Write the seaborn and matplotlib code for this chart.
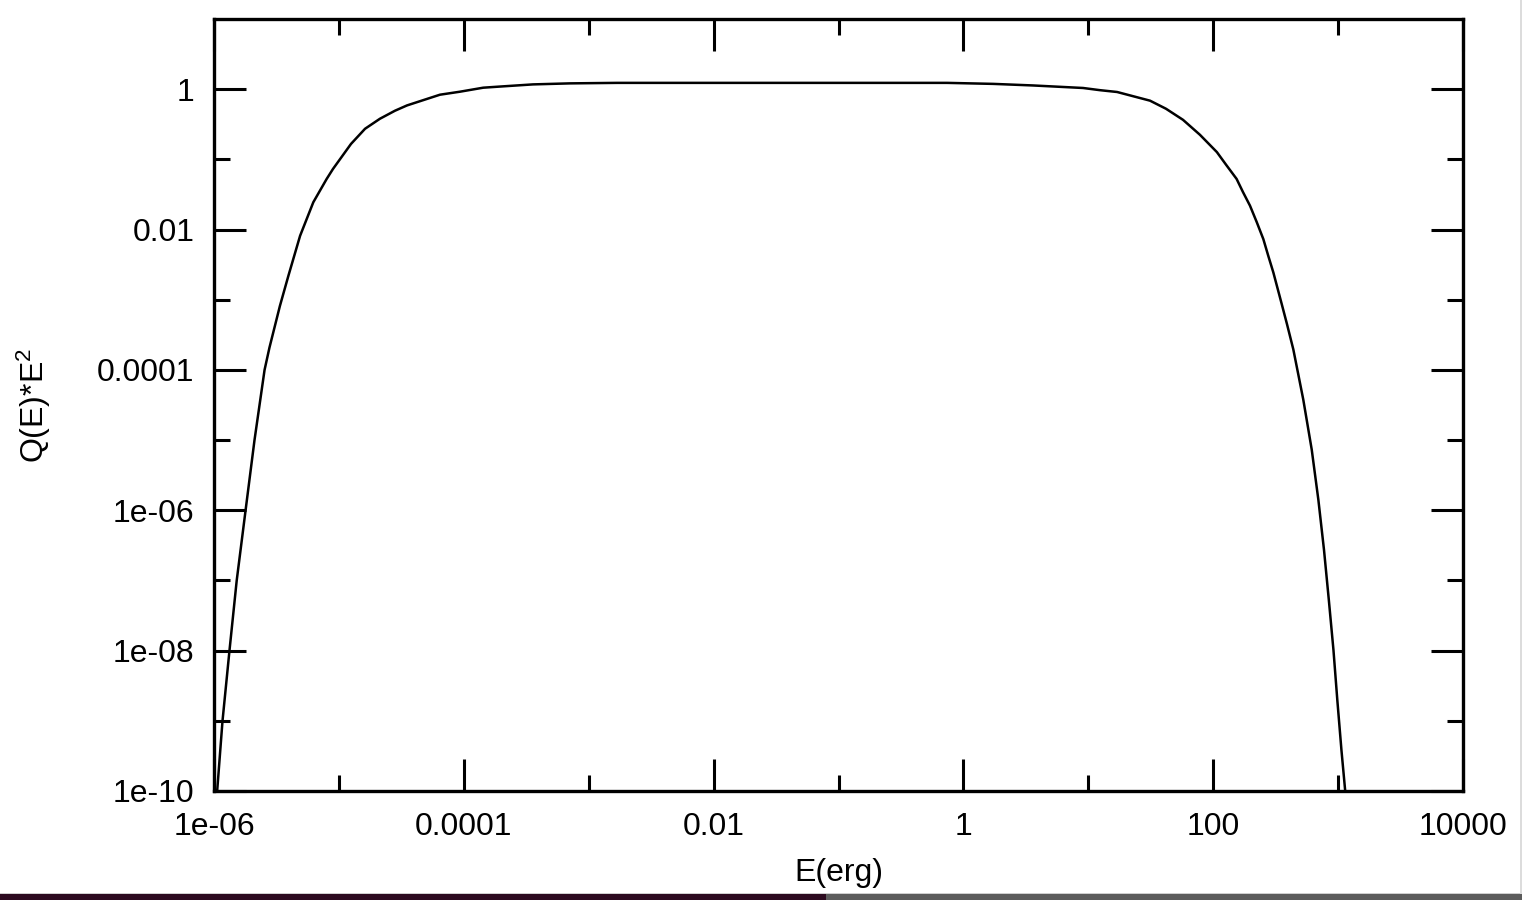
import numpy as np
import pandas as pd
import matplotlib
matplotlib.use("Agg")
import matplotlib.pyplot as plt
import seaborn as sns
from matplotlib.patches import Rectangle

# values
energy = [1.06e-6, 1.17e-6, 1.33e-6, 1.52e-6, 1.79e-6, 2.11e-6, 2.54e-6, 2.78e-6,
          3.37e-6, 3.94e-6, 4.89e-6, 6.24e-6, 7.98e-6, 8.97e-6, 1.25e-5,
          1.62e-5, 2.13e-5, 2.81e-5, 3.51e-5, 6.44e-5, 9.33e-5, 1.43e-4, 1.95e-4,
          3.58e-4, 7.08e-4, 1.69e-3, 0.124, 0.740, 1.73, 3.61, 9.08, 12.4, 17.0,
          31.2, 41.9, 57.3, 78.3, 107, 127, 154, 173, 197, 223, 252, 276, 303,
          354, 390, 438, 480, 526, 569, 615, 695, 771, 843, 918, 986, 1064, 1140]
q_e2 = [1e-10, 1e-9, 1e-8, 1e-7, 1e-6, 1e-5, 1e-4, 2.08e-4,
        8.15e-4, 2.19e-3, 8.15e-3, 0.0245, 0.0526, 0.0731, 0.166,
        0.273, 0.379, 0.493, 0.587, 0.834, 0.921, 1.05, 1.09,
        1.17, 1.21, 1.23, 1.23, 1.23, 1.19, 1.13, 1.04, 0.968, 0.912,
        0.686, 0.526, 0.366, 0.224, 0.127, 0.0835, 0.0526, 0.0343, 0.0219, 0.0128, 7.31e-3, 4.22e-3, 2.45e-3,
        8.63e-4, 4.47e-4, 1.96e-4, 8.63e-5, 3.79e-5, 1.66e-5, 7.31e-6, 1.41e-6, 2.73e-7, 5.26e-8, 1.02e-8,
        1.96e-9, 3.79e-10, 1e-10]

x_ticks = [1e-6, 1e-4, 1e-2, 1, 100, 1e4]
x_labels = ["1e-06", "0.0001", "0.01", "1", "100", "10000"]
x_minor = [1e-5, 1e-3, 0.1, 10, 1000]
y_ticks = [1e-10, 1e-8, 1e-6, 1e-4, 1e-2, 1]
y_labels = ["1e-10", "1e-08", "1e-06", "0.0001", "0.01", "1"]
y_minor = [1e-9, 1e-7, 1e-5, 1e-3, 0.1]

df = pd.DataFrame({"E": energy, "Q": q_e2})

sns.set_theme(style="white")
plt.rcParams['font.family'] = ['Liberation Sans', 'DejaVu Sans']
plt.rcParams['mathtext.default'] = 'regular'

fig = plt.figure(figsize=(15.22, 9), dpi=100)
ax = fig.add_axes([214 / 1522, 1 - 791 / 900, (1463 - 214) / 1522, (791 - 19) / 900])

sns.lineplot(data=df, x="E", y="Q", color="black", linewidth=1.8, sort=False,
             estimator=None, ax=ax)

ax.set_xscale("log")
ax.set_yscale("log")
ax.set_xlim(1e-6, 1e4)
ax.set_ylim(1e-10, 10)

ax.set_xticks(x_ticks)
ax.set_xticklabels(x_labels)
ax.set_xticks(x_minor, minor=True)
ax.set_xticklabels([], minor=True)
ax.set_yticks(y_ticks)
ax.set_yticklabels(y_labels)
ax.set_yticks(y_minor, minor=True)
ax.set_yticklabels([], minor=True)

ax.tick_params(which="both", direction="in", top=True, right=True,
               bottom=True, left=True, color="black", width=2.2)
ax.tick_params(which="major", length=23, labelsize=23, labelcolor="black")
ax.tick_params(axis="x", which="major", pad=15)
ax.tick_params(axis="y", which="major", pad=14)
ax.tick_params(which="minor", length=11.5)

for s in ax.spines.values():
    s.set_visible(True)
    s.set_color("black")
    s.set_linewidth(2.4)

ax.set_xlabel("E(erg)", fontsize=23, labelpad=12, color="black")
ax.set_ylabel("Q(E)*E$^2$", fontsize=23, labelpad=32, color="black")
ax.grid(False)

# screen strip at the bottom edge of the screenshot
fig.patches.append(Rectangle((0, 0), 826 / 1522, 6 / 900, transform=fig.transFigure,
                             facecolor="#2c0a1f", edgecolor="none"))
fig.patches.append(Rectangle((826 / 1522, 0), 1 - 826 / 1522, 6 / 900, transform=fig.transFigure,
                             facecolor="#5c5c5c", edgecolor="none"))
fig.patches.append(Rectangle((0, 6 / 900), 1, 1.5 / 900, transform=fig.transFigure,
                             facecolor="#cfcfcf", edgecolor="none"))
fig.patches.append(Rectangle((1520 / 1522, 6 / 900), 2 / 1522, 1, transform=fig.transFigure,
                             facecolor="#dcdcdc", edgecolor="none"))

fig.savefig("out.png", dpi=100)
